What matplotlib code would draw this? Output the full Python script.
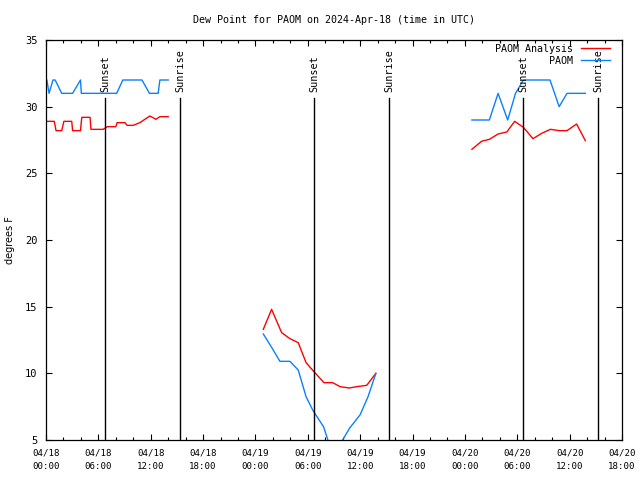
import matplotlib
matplotlib.use("Agg")
import matplotlib.pyplot as plt
import numpy as np

# hours since 04/18 00:00 UTC
obs_t1 = [0.1, 0.35, 0.8, 1.05, 1.8, 3.05, 3.95, 4.05, 8.1, 8.8, 11.0, 11.85, 12.85, 13.05, 14.0]
obs_v1 = [32, 31, 32, 32, 31, 31, 32, 31, 31, 32, 32, 31, 31, 32, 32]
obs_t2 = [24.9, 25.9, 26.8, 27.95, 28.9, 29.8, 30.6, 31.8, 32.9, 33.9, 34.8, 36.0, 36.9, 37.8]
obs_v2 = [12.95, 11.9, 10.9, 10.9, 10.25, 8.25, 7.2, 6.0, 3.8, 4.9, 5.9, 6.9, 8.25, 10.0]
obs_t3 = [48.8, 49.8, 50.8, 51.8, 52.9, 53.8, 54.7, 55.7, 56.7, 57.75, 58.8, 59.7, 60.8, 61.8]
obs_v3 = [29, 29, 29, 31, 29, 31, 32, 32, 32, 32, 30, 31, 31, 31]

ana_t1 = [0.0, 0.95, 1.15, 1.8, 2.05, 2.95, 3.05, 3.95, 4.1, 5.05, 5.15, 6.55, 7.05, 8.0,
          8.15, 9.05, 9.3, 10.0, 10.75, 11.9, 12.6, 13.05, 14.0]
ana_v1 = [28.9, 28.9, 28.2, 28.2, 28.9, 28.9, 28.2, 28.2, 29.2, 29.2, 28.3, 28.3, 28.5, 28.5,
          28.8, 28.8, 28.6, 28.6, 28.8, 29.3, 29.05, 29.25, 29.25]
ana_t2 = [24.9, 25.85, 27.0, 27.95, 28.9, 29.8, 30.6, 31.85, 32.85, 33.7, 34.75, 35.6, 36.75, 37.8]
ana_v2 = [13.3, 14.8, 13.05, 12.6, 12.3, 10.8, 10.2, 9.3, 9.3, 9.0, 8.9, 9.0, 9.1, 10.0]
ana_t3 = [48.8, 49.9, 50.8, 51.8, 52.8, 53.7, 54.7, 55.8, 56.8, 57.8, 58.8, 59.7, 60.8, 61.8]
ana_v3 = [26.8, 27.4, 27.55, 27.95, 28.1, 28.9, 28.45, 27.6, 28.0, 28.3, 28.2, 28.2, 28.7, 27.45]

sunset = [6.75, 30.7, 54.65]
sunrise = [15.35, 39.3, 63.25]

xtick_pos = list(range(0, 67, 6))
xtick_labels = ["04/18\n00:00", "04/18\n06:00", "04/18\n12:00", "04/18\n18:00",
                "04/19\n00:00", "04/19\n06:00", "04/19\n12:00", "04/19\n18:00",
                "04/20\n00:00", "04/20\n06:00", "04/20\n12:00", "04/20\n18:00"]

mono = "DejaVu Sans Mono"
red = "#ff0000"
blue = "#0a80ff"

fig = plt.figure(figsize=(6.4, 4.8), dpi=100)
ax = fig.add_axes([46/640, 40/480, 576/640, 400/480])

for t, v in [(ana_t1, ana_v1), (ana_t2, ana_v2), (ana_t3, ana_v3)]:
    ax.plot(t, v, color=red, lw=1.0)
for t, v in [(obs_t1, obs_v1), (obs_t2, obs_v2), (obs_t3, obs_v3)]:
    ax.plot(t, v, color=blue, lw=1.0)

# legend handles
ax.plot([], [], color=red, lw=1.0, label="PAOM Analysis")
ax.plot([], [], color=blue, lw=1.0, label="PAOM")

for name, times in [("Sunset", sunset), ("Sunrise", sunrise)]:
    for s in times:
        ax.plot([s, s], [5, 30.65], color="black", lw=1.0)
        ax.text(s + 0.1, 31.1, name, rotation=90, ha="center", va="bottom",
                fontsize=7.3, family=mono)

ax.set_xlim(0, 66)
ax.set_ylim(5, 35)
ax.set_xticks(xtick_pos)
ax.set_xticklabels(xtick_labels, family=mono, fontsize=6.6, linespacing=1.6)
ax.set_xticks(np.arange(0, 67, 2), minor=True)
ax.set_yticks(range(5, 36, 5))
ax.set_yticklabels([str(v) for v in range(5, 36, 5)], family=mono, fontsize=7.5)
ax.tick_params(which="both", direction="in", top=True, right=True, width=0.8)
ax.tick_params(which="major", length=4, pad=6)
ax.tick_params(which="minor", length=2.5)
for sp in ax.spines.values():
    sp.set_linewidth(0.9)

ax.set_ylabel("degrees F", fontsize=7, labelpad=7)
ax.set_title("Dew Point for PAOM on 2024-Apr-18 (time in UTC)", family=mono,
             fontsize=7.2, pad=12)

ax.legend(loc="upper right", bbox_to_anchor=(0.98, 0.99), frameon=False,
          markerfirst=False, prop={"family": mono, "size": 7.2},
          borderpad=0, borderaxespad=0, handlelength=2.9, handletextpad=0.8,
          labelspacing=0.2)

fig.savefig("out.png", dpi=100)
